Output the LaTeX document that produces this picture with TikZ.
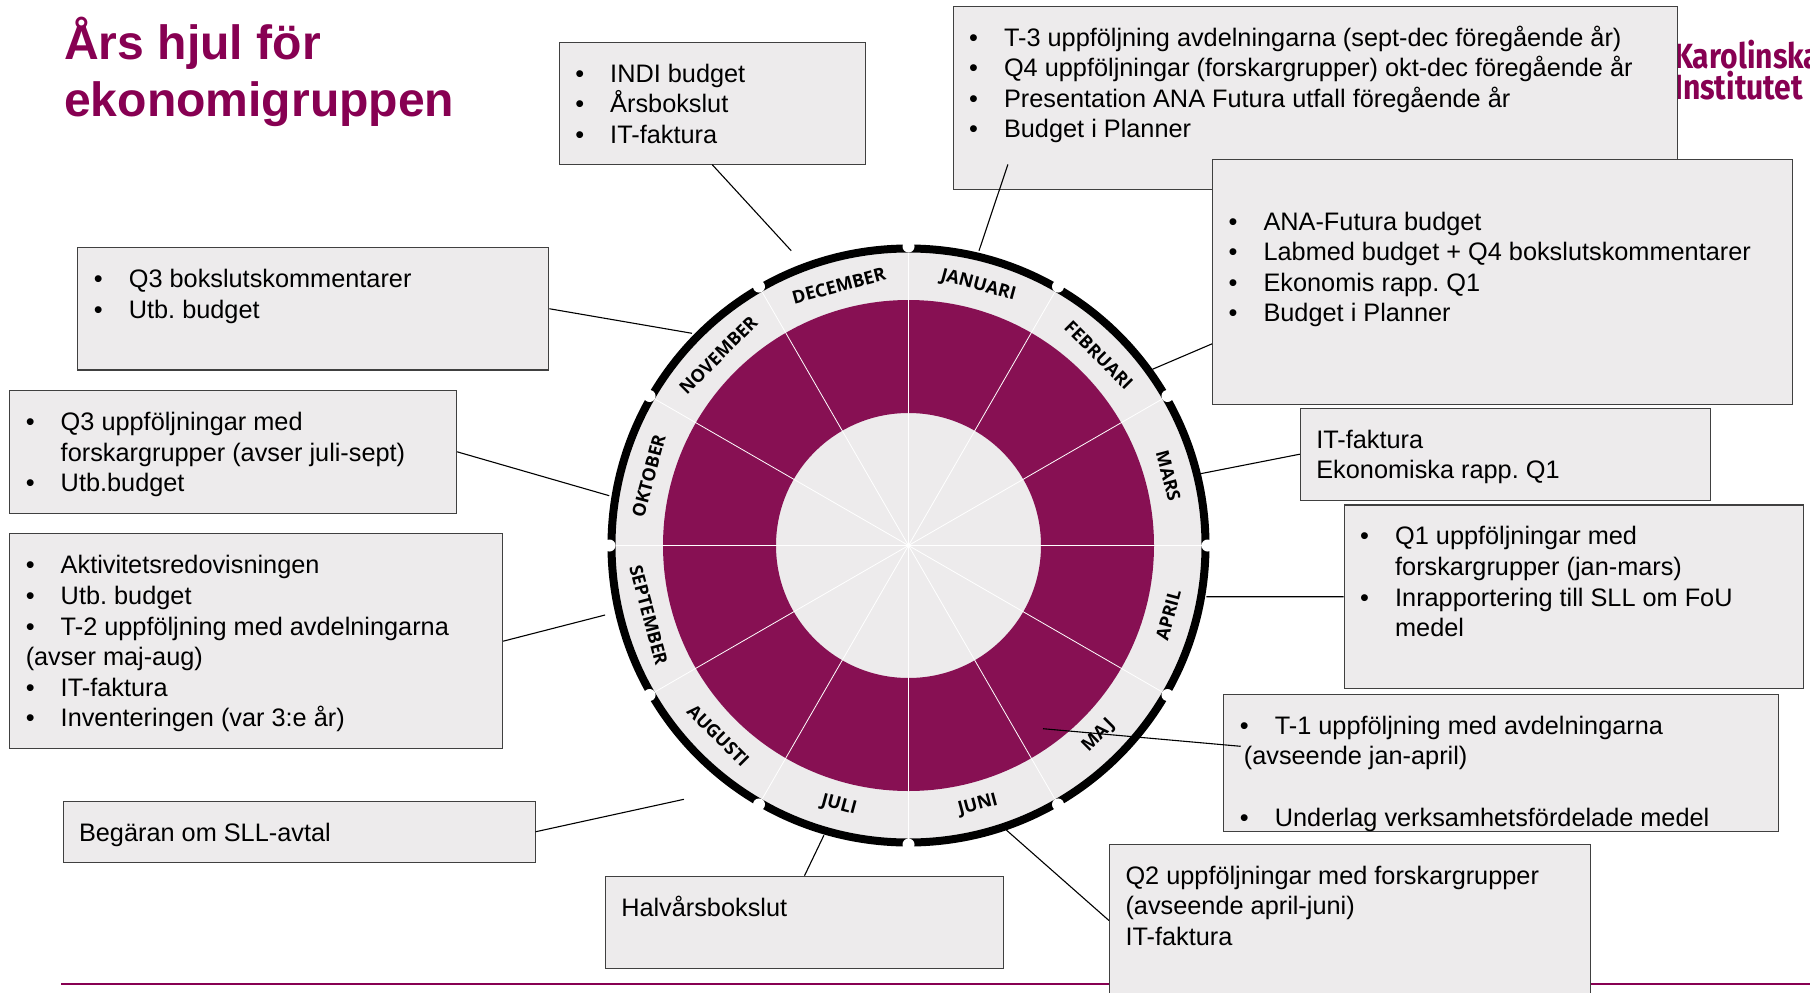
\documentclass[tikz,border=0pt]{standalone}
\usepackage{fontspec}
\setmainfont{Liberation Sans}
\newfontfamily\monthfont{Open Sans}
\newfontfamily\logofont{Fira Sans}
\usepackage{xcolor}
\usepackage{tikz}
\definecolor{kiplum}{HTML}{870052}
\definecolor{wheelplum}{HTML}{871053}
\definecolor{boxgrey}{HTML}{EDEBEC}
\definecolor{boxline}{HTML}{404040}
\newcommand{\bul}{\makebox[35pt][l]{\textbullet}}
\newcommand{\cont}{\hspace*{35pt}}
\newcommand{\boxtext}[3]{\parbox[c][#2pt][t]{\dimexpr#1pt-32pt\relax}{\frenchspacing\raggedright\rule{0pt}{40pt}#3}}
\tikzset{
	infobox/.style={
		draw=boxline,
		fill=boxgrey,
		line width=1.1pt,
		anchor=north west,
		inner xsep=16pt,
		inner ysep=0pt,
		font=\fontsize{25.3}{30.6}\selectfont},
	monthlabel/.style={
		inner sep=0pt,
		font=\monthfont\bfseries\fontsize{18}{20}\selectfont},
	leader/.style={
		draw=black,
		line width=1.1pt},
	notch/.style={
		fill=white,
		draw=none}
}

\begin{document}
\begin{tikzpicture}[x=1pt,y=-1pt]
	\useasboundingbox (0,0) rectangle (1810,993);
	\clip (0,0) rectangle (1810,993);
	
	\coordinate (hub) at (908.5,545.5);
	
	% title, logo, rule
	\node[anchor=north west, inner sep=0pt, align=left, text=kiplum, font=\bfseries\fontsize{48.1}{56.7}\selectfont] (title) at (64,17) {Års hjul för\\ekonomigruppen};
	\node[anchor=north west, inner sep=0pt, align=left, text=kiplum, xscale=0.86, font=\logofont\bfseries\fontsize{35}{31}\selectfont] (logo) at (1674,40) {Karolinska\\Institutet};
	\draw[kiplum, line width=2.2pt] (61,984) coordinate (rulea) -- (1810,984) coordinate (ruleb);
	
	% wheel
	\fill[boxgrey] (hub) circle[radius=293];
	\draw[black, line width=8pt] (hub) circle[radius=297];
	\draw[wheelplum, line width=113pt] (hub) circle[radius=189];
	\foreach \a in {0,30,...,330} {
		\draw[white, line width=0.8pt] (hub) -- ([shift={(\a:293)}]hub);
		\fill[notch] ([shift={(\a:299)}]hub) circle[radius=6];
	}
	\fill[white] (hub) circle[radius=2];
	
	% months, the angle goes clockwise from east
	\foreach \m/\a/\r in {JANUARI/-75/-15, FEBRUARI/-45/-45, MARS/-15/-75,
		APRIL/15/75, MAJ/45/45, JUNI/75/15,
		JULI/105/-15, AUGUSTI/135/-45, SEPTEMBER/165/-75,
		OKTOBER/195/75, NOVEMBER/225/45, DECEMBER/255/15} {
		\node[monthlabel, rotate=\r] (\m) at ([shift={(\a:269)}]hub) {\m};
	}
	
	% boxes
	\node[infobox] (indi) at (558.7,41.6) {\boxtext{306}{122}{\bul INDI budget\\\bul Årsbokslut\\\bul IT-faktura}};
	\node[infobox] (tthree) at (952.5,5.5) {\boxtext{724.7}{183.8}{\bul T-3 uppföljning avdelningarna (sept-dec föregående år)\\\bul Q4 uppföljningar (forskargrupper) okt-dec föregående år\\\bul Presentation ANA Futura utfall föregående år\\\bul Budget i Planner}};
	\node[infobox] (ana) at (1212,159) {\boxtext{579.5}{245}{\\\bul ANA-Futura budget\\\bul Labmed budget + Q4 bokslutskommentarer\\\bul Ekonomis rapp. Q1\\\bul Budget i Planner}};
	\node[infobox] (itrapp) at (1299.8,407.5) {\boxtext{410}{92.3}{IT-faktura\\Ekonomiska rapp. Q1}};
	\node[infobox] (qone) at (1343.6,504.4) {\boxtext{459.4}{183.6}{\bul Q1 uppföljningar med\\\cont forskargrupper (jan-mars)\\\bul Inrapportering till SLL om FoU\\\cont medel}};
	\node[infobox] (tone) at (1223.3,693.7) {\boxtext{554.3}{137.3}{\bul T-1 uppföljning med avdelningarna\\\hspace*{4pt}(avseende jan-april)\\~\\\bul Underlag verksamhetsfördelade medel}};
	\node[infobox] (qtwo) at (1109,843.7) {\boxtext{480.5}{152.6}{Q2 uppföljningar med forskargrupper\\(avseende april-juni)\\IT-faktura}};
	\node[infobox] (halvar) at (604.7,875.7) {\boxtext{398.5}{92.6}{Halvårsbokslut}};
	\node[infobox] (sll) at (62.5,800.7) {\boxtext{472}{61}{Begäran om SLL-avtal}};
	\node[infobox] (akt) at (9.2,533.3) {\boxtext{492.8}{214.7}{\bul Aktivitetsredovisningen\\\bul Utb. budget\\\bul T-2 uppföljning med avdelningarna\\(avser maj-aug)\\\bul IT-faktura\\\bul Inventeringen (var 3:e år)}};
	\node[infobox] (qthree) at (9.2,390) {\boxtext{446.8}{122.5}{\bul Q3 uppföljningar med\\\cont forskargrupper (avser juli-sept)\\\bul Utb.budget}};
	\node[infobox] (qbok) at (77.3,247) {\boxtext{471}{122.4}{\bul Q3 bokslutskommentarer\\\bul Utb. budget}};
	
	% free ends of the leaders
	\coordinate (indi-end) at (791.2,250.7);
	\coordinate (tthree-end) at (979,250.7);
	\coordinate (ana-end) at (1152.4,369.3);
	\coordinate (itrapp-end) at (1199,474);
	\coordinate (qone-end) at (1206.3,596.7);
	\coordinate (tone-end) at (1043,728.7);
	\coordinate (qtwo-end) at (1006.3,830);
	\coordinate (halvar-end) at (823.9,835.3);
	\coordinate (sll-end) at (683.9,799.3);
	\coordinate (akt-end) at (605.1,615);
	\coordinate (qthree-end) at (609.2,495.7);
	\coordinate (qbok-end) at (692,333.3);
	
	\draw[leader] (indi.south) -- (indi-end);
	\draw[leader] ([shift={(-307.5,-26)}]tthree.south) -- (tthree-end);
	\draw[leader] ([shift={(0,61.8)}]ana.west) -- (ana-end);
	\draw[leader] (itrapp.west) -- (itrapp-end);
	\draw[leader] (qone.west) -- (qone-end);
	\draw[leader] ([shift={(17.4,-16.6)}]tone.west) -- (tone-end);
	\draw[leader] (qtwo.west) -- (qtwo-end);
	\draw[leader] (halvar.north) -- (halvar-end);
	\draw[leader] (sll.east) -- (sll-end);
	\draw[leader] (akt.east) -- (akt-end);
	\draw[leader] (qthree.east) -- (qthree-end);
	\draw[leader] (qbok.east) -- (qbok-end);
	
\end{tikzpicture}
\end{document}
